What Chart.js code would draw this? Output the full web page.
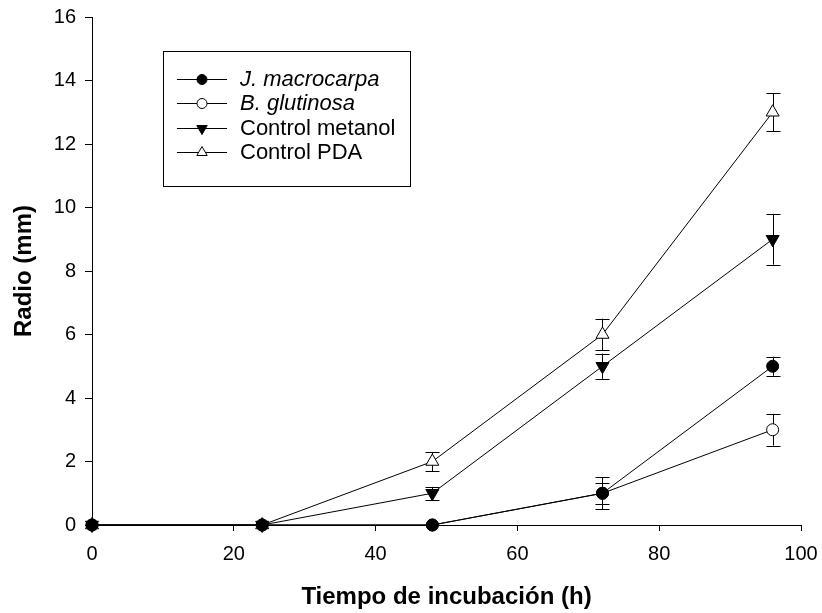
<!DOCTYPE html>
<html>
<head>
<meta charset="utf-8">
<script src="https://cdn.jsdelivr.net/npm/chart.js@4.4.1/dist/chart.umd.min.js"></script>
<style>
  html, body { margin: 0; padding: 0; background: #fff; }
  #wrap { width: 822px; height: 613px; }
</style>
</head>
<body>
<div id="wrap"><canvas id="chart" width="822" height="613"></canvas></div>
<script>
// values
const hours = [0, 24, 48, 72, 96];
const seriesNames = ["J. macrocarpa", "B. glutinosa", "Control metanol", "Control PDA"];
const macrocarpa = [0, 0, 0, 1, 5];
const macrocarpaErr = [0, 0, 0, 0.33, 0.3];
const glutinosa = [0, 0, 0, 1, 3];
const glutinosaErr = [0, 0, 0, 0.5, 0.5];
const metanol = [0, 0, 1, 5, 9];
const metanolErr = [0, 0, 0.2, 0.4, 0.8];
const pda = [0, 0, 2, 6, 13];
const pdaErr = [0, 0, 0.3, 0.5, 0.6];
const yTicks = [0, 2, 4, 6, 8, 10, 12, 14, 16];
const xTicks = [0, 20, 40, 60, 80, 100];

const FONT = "'Liberation Sans', Arial, sans-serif";

function makeSet(label, values, errs, style, fill, radius, rotation, italic) {
  return {
    label,
    data: hours.map((h, i) => ({ x: h, y: values[i] })),
    errs,
    italic,
    borderColor: "#000",
    borderWidth: 1,
    pointStyle: style,
    pointRadius: radius,
    pointRotation: rotation,
    pointBackgroundColor: fill,
    pointBorderColor: "#000",
    pointBorderWidth: 1,
    tension: 0,
    clip: false
  };
}

const datasets = [
  makeSet(seriesNames[0], macrocarpa, macrocarpaErr, "circle", "#000", 6, 0, true),
  makeSet(seriesNames[1], glutinosa, glutinosaErr, "circle", "#fff", 6, 0, true),
  makeSet(seriesNames[2], metanol, metanolErr, "triangle", "#000", 7.5, 180, false),
  makeSet(seriesNames[3], pda, pdaErr, "triangle", "#fff", 7.5, 0, false)
];

// error bars with caps
const errorBars = {
  id: "errorBars",
  beforeDatasetsDraw(chart) {
    const { ctx, scales: { x, y } } = chart;
    ctx.save();
    ctx.strokeStyle = "#000";
    ctx.lineWidth = 1;
    chart.data.datasets.forEach(ds => {
      ds.data.forEach((p, i) => {
        const e = ds.errs[i];
        if (!e) return;
        const px = Math.round(x.getPixelForValue(p.x)) + 0.5;
        const top = y.getPixelForValue(p.y + e);
        const bot = y.getPixelForValue(p.y - e);
        ctx.beginPath();
        ctx.moveTo(px, top); ctx.lineTo(px, bot);
        ctx.moveTo(px - 7, Math.round(top) + 0.5); ctx.lineTo(px + 7, Math.round(top) + 0.5);
        ctx.moveTo(px - 7, Math.round(bot) + 0.5); ctx.lineTo(px + 7, Math.round(bot) + 0.5);
        ctx.stroke();
      });
    });
    ctx.restore();
  }
};

// boxed legend inside the plot
const boxLegend = {
  id: "boxLegend",
  afterDraw(chart) {
    const ctx = chart.ctx;
    ctx.save();
    ctx.strokeStyle = "#000";
    ctx.lineWidth = 1;
    ctx.strokeRect(163.5, 51.5, 247, 135);
    const rows = [79, 103, 128, 152];
    chart.data.datasets.forEach((ds, i) => {
      const yy = rows[i] + 0.5;
      ctx.beginPath();
      ctx.moveTo(177, yy); ctx.lineTo(227, yy);
      ctx.stroke();
      ctx.fillStyle = ds.pointBackgroundColor;
      ctx.strokeStyle = "#000";
      Chart.helpers.drawPoint(ctx, {
        pointStyle: ds.pointStyle,
        radius: ds.pointStyle === "circle" ? 5 : 6,
        rotation: ds.pointRotation,
        borderWidth: 1
      }, 202, yy);
      ctx.fillStyle = "#000";
      ctx.font = (ds.italic ? "italic " : "") + "22px " + FONT;
      ctx.textBaseline = "middle";
      ctx.textAlign = "left";
      ctx.fillText(ds.label, 240, yy);
    });
    ctx.restore();
  }
};

new Chart(document.getElementById("chart"), {
  type: "line",
  data: { datasets },
  plugins: [errorBars, boxLegend],
  options: {
    responsive: false,
    animation: false,
    layout: { padding: { top: 17, right: 21, left: 0, bottom: 0 } },
    plugins: { legend: { display: false }, tooltip: { enabled: false } },
    scales: {
      x: {
        type: "linear",
        min: 0,
        max: 100,
        afterFit: s => { s.height = 88; s.paddingLeft = 0; s.paddingRight = 0; },
        afterBuildTicks: s => { s.ticks = xTicks.map(v => ({ value: v })); },
        border: { display: true, color: "#000", width: 1 },
        grid: { display: true, drawOnChartArea: false, color: "#000", tickLength: 6 },
        ticks: { color: "#000", font: { family: FONT, size: 20 }, padding: 11, maxRotation: 0 },
        title: {
          display: true,
          text: "Tiempo de incubación (h)",
          color: "#000",
          font: { family: FONT, size: 24, weight: "bold" },
          padding: { top: 0, bottom: 1 }
        }
      },
      y: {
        type: "linear",
        min: 0,
        max: 16,
        afterFit: s => { s.width = 92; s.paddingTop = 0; s.paddingBottom = 0; },
        afterBuildTicks: s => { s.ticks = yTicks.map(v => ({ value: v })); },
        border: { display: true, color: "#000", width: 1 },
        grid: { display: true, drawOnChartArea: false, color: "#000", tickLength: 7 },
        ticks: { color: "#000", font: { family: FONT, size: 20 }, padding: 9 },
        title: {
          display: true,
          text: "Radio (mm)",
          color: "#000",
          font: { family: FONT, size: 24, weight: "bold" },
          padding: { top: 10, bottom: 0 }
        }
      }
    }
  }
});
</script>
</body>
</html>
